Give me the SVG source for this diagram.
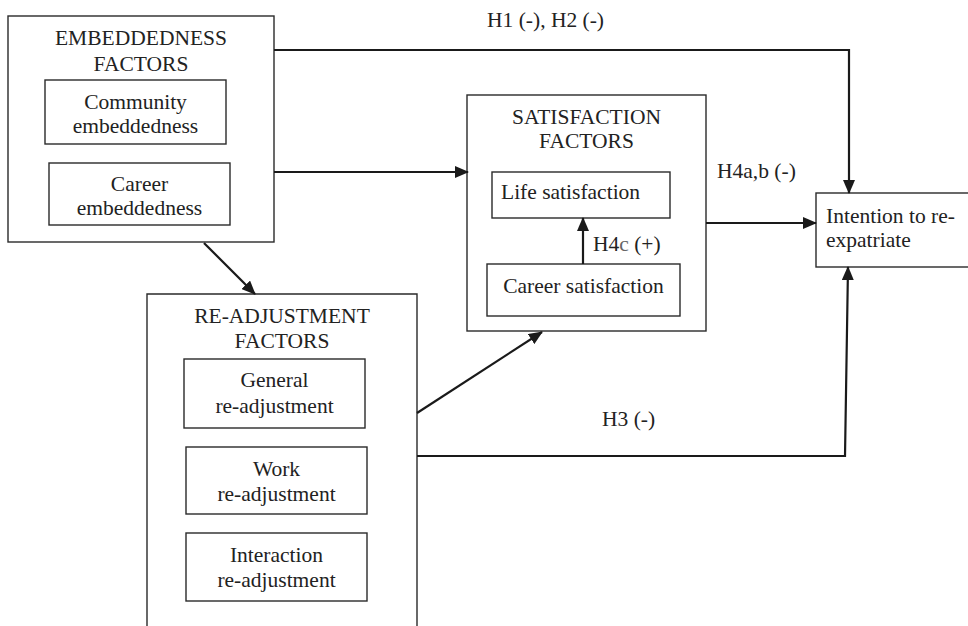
<svg xmlns="http://www.w3.org/2000/svg" width="968" height="626" viewBox="0 0 968 626">
<style>
.box{fill:#fff;stroke:#2a2a2a;stroke-width:1.4}
.open{fill:none;stroke:#2a2a2a;stroke-width:1.4}
text{font-family:'Liberation Serif','Times New Roman',Times,'DejaVu Serif',serif;font-size:21.5px;fill:#222}
.c{text-anchor:middle}
.ln{fill:none;stroke:#1a1a1a;stroke-width:2.2}
</style>
<defs>
<marker id="ah" markerUnits="userSpaceOnUse" markerWidth="14" markerHeight="12" refX="13" refY="6" orient="auto">
<path d="M0,0 L14,6 L0,12 z" fill="#1a1a1a"/>
</marker>
</defs>
<rect width="968" height="626" fill="#fff"/>
<g id="embeddedness">
<rect class="box" x="8" y="16" width="266" height="226"/>
<text class="c" x="141" y="45">EMBEDDEDNESS</text>
<text class="c" x="141" y="71">FACTORS</text>
<rect class="box" x="45" y="80" width="181" height="64"/>
<text class="c" x="135.5" y="109">Community</text>
<text class="c" x="135.5" y="133">embeddedness</text>
<rect class="box" x="49" y="163" width="181" height="62"/>
<text class="c" x="139.5" y="191">Career</text>
<text class="c" x="139.5" y="215">embeddedness</text>
</g>
<g id="satisfaction">
<rect class="box" x="467" y="95" width="239" height="236"/>
<text class="c" x="586.5" y="124">SATISFACTION</text>
<text class="c" x="586.5" y="148">FACTORS</text>
<rect class="box" x="492" y="172" width="178" height="46"/>
<text x="501" y="199">Life satisfaction</text>
<rect class="box" x="487" y="264" width="193" height="52"/>
<text class="c" x="583.5" y="293">Career satisfaction</text>
</g>
<g id="readjustment">
<path class="open" d="M147,626 V294 H417 V626"/>
<text class="c" x="282" y="323">RE-ADJUSTMENT</text>
<text class="c" x="282" y="348">FACTORS</text>
<rect class="box" x="184" y="359" width="181" height="69"/>
<text class="c" x="274.5" y="387">General</text>
<text class="c" x="274.5" y="413">re-adjustment</text>
<rect class="box" x="186" y="447" width="181" height="67"/>
<text class="c" x="276.5" y="476">Work</text>
<text class="c" x="276.5" y="501">re-adjustment</text>
<rect class="box" x="186" y="533" width="181" height="68"/>
<text class="c" x="276.5" y="562">Interaction</text>
<text class="c" x="276.5" y="587">re-adjustment</text>
</g>
<g id="intention">
<rect class="box" x="816" y="193" width="160" height="74"/>
<text x="826" y="223">Intention to re-</text>
<text x="826" y="247">expatriate</text>
</g>
<g id="connectors">
<path class="ln" d="M274,50 H849 V193" marker-end="url(#ah)"/>
<path class="ln" d="M274,172 H468" marker-end="url(#ah)"/>
<path class="ln" d="M204,243 L255,294" marker-end="url(#ah)"/>
<path class="ln" d="M583,264 V218" marker-end="url(#ah)"/>
<path class="ln" d="M706,223 H816" marker-end="url(#ah)"/>
<path class="ln" d="M417,413 L542,332" marker-end="url(#ah)"/>
<path class="ln" d="M417,456 H845 L848,267" marker-end="url(#ah)"/>
</g>
<g id="labels">
<text x="487" y="27">H1 (-), H2 (-)</text>
<text x="717" y="178">H4a,b (-)</text>
<text x="593" y="251">H4<tspan fill="#666">c</tspan> (+)</text>
<text x="602" y="426">H3 (-)</text>
</g>
</svg>
